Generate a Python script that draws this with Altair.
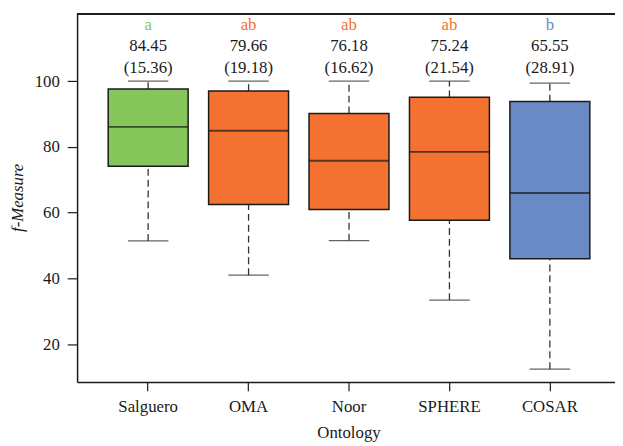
import altair as alt
import pandas as pd

categories = ["Salguero", "OMA", "Noor", "SPHERE", "COSAR"]
whisker_low = [51.4, 41.0, 51.5, 33.4, 12.4]
q1 = [74.1, 62.5, 61.0, 57.7, 46.0]
median = [86.1, 84.9, 75.8, 78.5, 66.0]
q3 = [97.6, 97.0, 90.2, 95.1, 93.8]
whisker_high = [100.0, 100.0, 100.0, 100.0, 99.4]
means = ["84.45", "79.66", "76.18", "75.24", "65.55"]
sds = ["(15.36)", "(19.18)", "(16.62)", "(21.54)", "(28.91)"]
groups = ["a", "ab", "ab", "ab", "b"]
colors = ["#86C55A", "#F37231", "#F37231", "#F37231", "#6A8AC6"]

FONT = "Liberation Serif"
FS = 17

df = pd.DataFrame({
    "cat": categories, "lo": whisker_low, "q1": q1, "med": median,
    "q3": q3, "hi": whisker_high, "color": colors,
})

rows = []
for c, g, m, s, col in zip(categories, groups, means, sds, colors):
    rows.append({"cat": c, "y": 115.6, "t": g, "color": col})
    rows.append({"cat": c, "y": 109.2, "t": m, "color": "#1a1a1a"})
    rows.append({"cat": c, "y": 102.5, "t": s, "color": "#1a1a1a"})
tdf = pd.DataFrame(rows)

x = alt.X("cat:N", sort=categories, title="Ontology",
          scale=alt.Scale(range=[0, 551], paddingInner=0, paddingOuter=0.2076),
          axis=alt.Axis(labelAngle=0, tickSize=9, labelPadding=8, titleY=51,
                        titleBaseline="middle", titleX=275, titleAlign="center"))
yscale = alt.Scale(domain=[8.5, 120.5], nice=False, zero=False)
y = alt.Y("q1:Q", scale=yscale, title="f-Measure",
          axis=alt.Axis(values=[20, 40, 60, 80, 100], tickSize=10, labelPadding=8,
                        titleX=-60, titleY=186, titleAngle=-90, titleAlign="center",
                        titleBaseline="middle", titleFontStyle="italic"))

base = alt.Chart(df)

upper = base.mark_rule(strokeDash=[7, 4], color="#333333", strokeWidth=1.3).encode(
    x=x, y=alt.Y("q3:Q", scale=yscale), y2="hi:Q")
lower = base.mark_rule(strokeDash=[7, 4], color="#333333", strokeWidth=1.3).encode(
    x=x, y=alt.Y("lo:Q", scale=yscale), y2="q1:Q")
cap_hi = base.mark_tick(size=41, thickness=1.3, color="#222222").encode(
    x=x, y=alt.Y("hi:Q", scale=yscale))
cap_lo = base.mark_tick(size=41, thickness=1.3, color="#222222").encode(
    x=x, y=alt.Y("lo:Q", scale=yscale))
box = base.mark_bar(size=81, stroke="#1a1a1a", strokeWidth=1.5).encode(
    x=x, y=y, y2="q3:Q", color=alt.Color("color:N", scale=None))
med = base.mark_tick(size=81, thickness=2, color="#1a1a1a").encode(
    x=x, y=alt.Y("med:Q", scale=yscale))
texts = alt.Chart(tdf).mark_text(font=FONT, fontSize=FS, baseline="alphabetic").encode(
    x=x, y=alt.Y("y:Q", scale=yscale), text="t:N", color=alt.Color("color:N", scale=None))
border = alt.Chart(df).mark_rule(color="#1a1a1a", strokeWidth=1.5).encode(
    x=alt.value(0), x2=alt.value(551), y=alt.value(0))

chart = alt.layer(upper, lower, cap_hi, cap_lo, box, med, texts, border).properties(
    width=545, height=373,
    autosize=alt.AutoSizeParams(type="none"),
    padding={"left": 70, "top": 3, "right": 0, "bottom": 62},
).configure_view(stroke=None).configure_axis(
    grid=False, labelFont=FONT, titleFont=FONT, labelFontSize=FS, titleFontSize=FS,
    labelColor="#1a1a1a", titleColor="#1a1a1a", titleFontWeight="normal",
    domainColor="#1a1a1a", domainWidth=1.5, tickColor="#1a1a1a", tickWidth=1.2,
)

chart.save("out.html", embed_options={"renderer": "svg", "actions": False})
